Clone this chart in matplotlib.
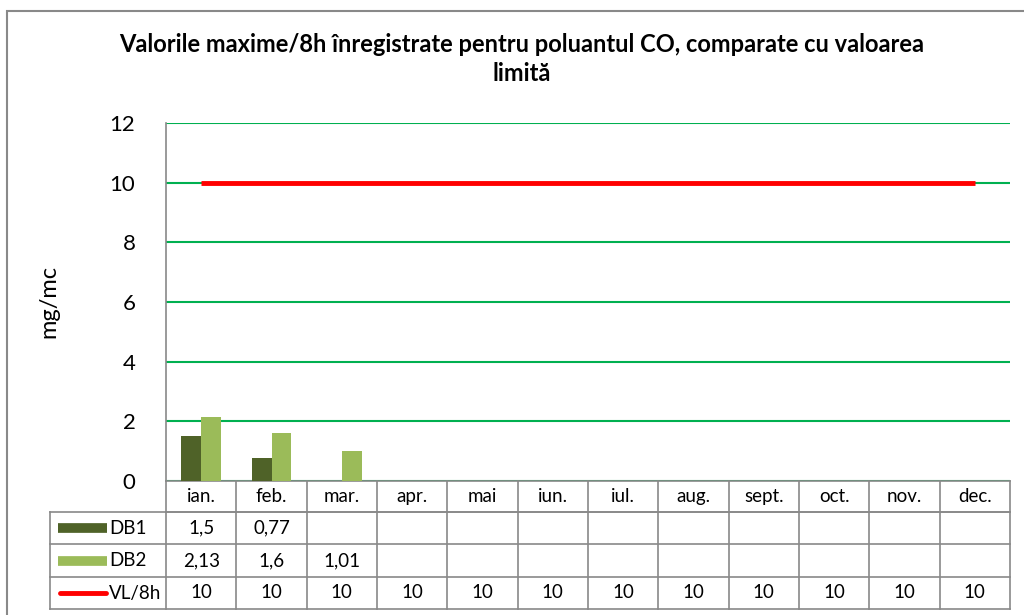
import numpy as np
import matplotlib.pyplot as plt

luni = ['ian.', 'feb.', 'mar.', 'apr.', 'mai', 'iun.', 'iul.', 'aug.', 'sept.', 'oct.', 'nov.', 'dec.']
db1 = [1.5, 0.77, None, None, None, None, None, None, None, None, None, None]
db2 = [2.13, 1.6, 1.01, None, None, None, None, None, None, None, None, None]
vl8h = [10] * 12

titlu = 'Valorile maxime/8h înregistrate pentru poluantul CO, comparate cu valoarea\nlimită'

plt.rcParams['font.family'] = ['Lato', 'DejaVu Sans']

c_db1 = '#4F6228'
c_db2 = '#9BBB59'
c_vl = '#FF0000'
c_grid = '#00B050'
c_line = '#898989'

fig = plt.figure(figsize=(10.24, 6.15), dpi=100)
ax = fig.add_axes([166 / 1024, 1 - 481 / 615, (1010 - 166) / 1024, (481 - 123) / 615])

x = np.arange(len(luni))
w = 0.28
v1 = np.array([np.nan if v is None else v for v in db1])
v2 = np.array([np.nan if v is None else v for v in db2])
ax.bar(x - w / 2, v1, w, color=c_db1, zorder=3)
ax.bar(x + w / 2, v2, w, color=c_db2, zorder=3)
ax.plot(x, vl8h, color=c_vl, lw=3.5, zorder=4, solid_capstyle='butt')

ax.set_xlim(-0.5, len(luni) - 0.5)
ax.set_ylim(0, 12)
ax.set_yticks(range(0, 13, 2))
ax.yaxis.grid(True, color=c_grid, lw=1.5)
ax.set_axisbelow(True)
ax.tick_params(axis='y', length=0, labelsize=16, pad=22)
ax.set_xticks([])
for s in ['top', 'right']:
    ax.spines[s].set_visible(False)
ax.spines['left'].set_color(c_line)
ax.spines['bottom'].set_color(c_line)
ax.spines['left'].set_linewidth(1.2)
ax.spines['bottom'].set_linewidth(1.2)
ax.set_ylabel('mg/mc', fontsize=17, labelpad=36)

# data table under the axis
trans = ax.get_xaxis_transform()
ah = 481 - 123
px = (1010 - 166) / 12
rows = [481, 512, 544, 577, 609]
ry = [-(r - 481) / ah for r in rows]
x_leg = (50 - 166) / px - 0.5
kw = dict(transform=trans, clip_on=False, color=c_line, lw=1.2)
# horizontal lines
ax.plot([-0.5, 11.5], [ry[1], ry[1]], **kw)
for yy in ry[1:]:
    ax.plot([x_leg, 11.5], [yy, yy], **kw)
# vertical lines
for xx in np.arange(-0.5, 12.0, 1.0):
    ax.plot([xx, xx], [ry[0], ry[-1]], **kw)
ax.plot([x_leg, x_leg], [ry[1], ry[-1]], **kw)

fs = 13.5
for i, m in enumerate(luni):
    ax.text(i, (ry[0] + ry[1]) / 2, m, transform=trans, ha='center', va='center', fontsize=fs)
serii = [('DB1', db1), ('DB2', db2), ('VL/8h', vl8h)]
for j, (nume, vals) in enumerate(serii):
    yc = (ry[j + 1] + ry[j + 2]) / 2
    for i, v in enumerate(vals):
        if v is not None:
            ax.text(i, yc, str(v).replace('.', ','), transform=trans, ha='center', va='center', fontsize=fs)
    ax.text(x_leg + 59 / px, yc, nume, transform=trans, ha='left', va='center', fontsize=fs)

# legend keys
k0, k1 = x_leg + 8 / px, x_leg + 57 / px
yk = [(ry[j + 1] + ry[j + 2]) / 2 for j in range(3)]
ax.plot([k0, k1], [yk[0], yk[0]], transform=trans, clip_on=False, color=c_db1, lw=7, solid_capstyle='butt')
ax.plot([k0, k1], [yk[1], yk[1]], transform=trans, clip_on=False, color=c_db2, lw=7, solid_capstyle='butt')
ax.plot([k0 + 2 / px, k1 - 1 / px], [yk[2], yk[2]], transform=trans, clip_on=False, color=c_vl, lw=3.5,
        solid_capstyle='round')

fig.text(522 / 1024, 1 - 59 / 615, titlu, ha='center', va='center', fontsize=17, fontweight='bold',
         linespacing=1.35)

# chart border
fig.patches.append(plt.Rectangle((7 / 1024, -0.05), 1.1, 1 - 11 / 615 + 0.05, transform=fig.transFigure,
                                 fill=False, edgecolor=c_line, lw=1.5))

fig.savefig('out.png', dpi=100)
